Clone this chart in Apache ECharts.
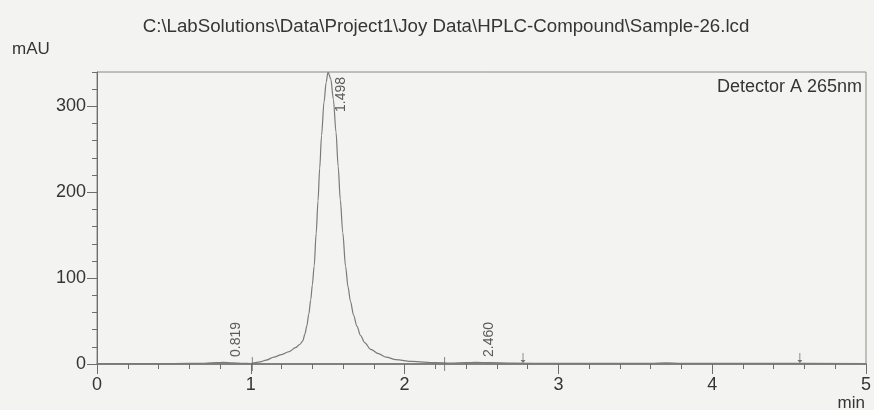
<!DOCTYPE html>
<html>
<head>
<meta charset="utf-8">
<script src="https://cdn.jsdelivr.net/npm/echarts@6/dist/echarts.min.js"></script>
<style>
html,body{margin:0;padding:0;background:#f3f3f2;}
#chart{width:874px;height:410px;}
</style>
</head>
<body>
<div id="chart"></div>
<script>
// ---- data ----
const chartTitle = 'C:\\LabSolutions\\Data\\Project1\\Joy Data\\HPLC-Compound\\Sample-26.lcd';
const yUnit = 'mAU';
const xUnit = 'min';
const detectorLabel = 'Detector A 265nm';
const traceTimes = [0, 0.3, 0.5, 0.7, 0.78, 0.82, 0.88, 0.95, 1.0, 1.06, 1.1, 1.15, 1.2, 1.25, 1.29, 1.32, 1.338, 1.352, 1.364, 1.377, 1.39, 1.40, 1.412, 1.425, 1.437, 1.448, 1.46, 1.476, 1.49, 1.502, 1.52, 1.537, 1.554, 1.568, 1.582, 1.598, 1.616, 1.632, 1.648, 1.668, 1.69, 1.714, 1.74, 1.78, 1.83, 1.88, 1.943, 2.05, 2.2, 2.3, 2.4, 2.46, 2.55, 2.7, 3.0, 3.6, 3.7, 3.8, 4.3, 5.0];
const traceValues = [0.5, 0.5, 0.6, 0.9, 1.5, 1.8, 1.4, 0.8, 0.6, 2.5, 4.5, 8, 11, 14.5, 19, 23, 27, 35, 44, 58, 75, 92, 114, 152, 190, 228, 266, 305, 328, 340, 332, 308, 270, 230, 191, 153, 114, 90, 73, 57, 44, 33, 25, 17, 12, 8, 5, 3, 1.5, 1.0, 1.5, 2.0, 1.5, 1.0, 0.8, 0.8, 1.2, 0.8, 0.7, 0.6];
const peakTimes = [0.819, 1.498, 2.460];
const peakLabelValues = [0, 340, 0];
const arrowTimes = [2.77, 4.57];
const cutTimes = [1.01, 2.26];
const xTickLabels = [0, 1, 2, 3, 4, 5];
const yTickLabels = [0, 100, 200, 300];
const yMinorStep = 20;
const yMax = 340;

const yMinorTicks = [];
for (let v = 0; v <= yMax; v += yMinorStep) yMinorTicks.push(v);

const font = 'Liberation Sans, Arial, sans-serif';
const axisColor = '#6e6e6e';
const textColor = '#353535';

const chart = echarts.init(document.getElementById('chart'));
const peakLabelCfg = [
  {position: [13, -7], align: 'left'},
  {position: [14, 5], align: 'right'},
  {position: [14, -7], align: 'left'}
];

chart.setOption({
  backgroundColor: '#f3f3f2',
  animation: false,
  title: [
    {text: chartTitle, left: 441, top: 12, textAlign: 'center',
     textStyle: {fontFamily: font, fontSize: 18.7, fontWeight: 'normal', color: textColor}},
    {text: yUnit, left: 7, top: 36,
     textStyle: {fontFamily: font, fontSize: 17, fontWeight: 'normal', color: textColor}},
    {text: xUnit, right: 4, top: 390,
     textStyle: {fontFamily: font, fontSize: 17, fontWeight: 'normal', color: textColor}},
    {text: detectorLabel, right: 7, top: 73,
     textStyle: {fontFamily: font, fontSize: 18, fontWeight: 'normal', color: textColor}}
  ],
  grid: {left: 97, right: 6, top: 72, bottom: 46, show: true, borderColor: '#888', borderWidth: 1, containLabel: false},
  xAxis: {
    type: 'value', min: 0, max: 5, interval: 1,
    axisLine: {lineStyle: {color: axisColor, width: 1.5}},
    axisTick: {show: true, length: 10, lineStyle: {color: axisColor}},
    minorTick: {show: true, splitNumber: 5, length: 5, lineStyle: {color: axisColor}},
    splitLine: {show: false},
    axisLabel: {fontFamily: font, fontSize: 18, color: textColor, margin: 12,
      customValues: xTickLabels, formatter: v => String(v)}
  },
  yAxis: [
    {
      type: 'value', min: 0, max: yMax,
      axisLine: {show: true, lineStyle: {color: axisColor, width: 1}},
      axisTick: {show: true, length: 5, customValues: yMinorTicks, lineStyle: {color: axisColor}},
      splitLine: {show: false},
      axisLabel: {fontFamily: font, fontSize: 18, color: textColor, margin: 11,
        customValues: yTickLabels, formatter: v => String(v)}
    },
    {
      type: 'value', min: 0, max: yMax, position: 'left',
      axisLine: {show: false},
      axisTick: {show: true, length: 10, customValues: yTickLabels, lineStyle: {color: axisColor}},
      splitLine: {show: false},
      axisLabel: {show: false}
    }
  ],
  series: [
    {
      type: 'line', name: 'trace', yAxisIndex: 0,
      data: traceTimes.map((t, i) => [t, traceValues[i]]),
      showSymbol: false, smooth: 0.3, smoothMonotone: 'x',
      lineStyle: {color: '#7a7a7a', width: 1.2},
      clip: true, z: 3
    },
    {
      type: 'scatter', name: 'peaks', yAxisIndex: 0, symbolSize: 0,
      data: peakTimes.map((t, i) => ({
        value: [t, peakLabelValues[i]],
        label: {show: true, rotate: 90, position: peakLabelCfg[i].position,
          align: peakLabelCfg[i].align, verticalAlign: 'middle',
          formatter: t.toFixed(3), fontFamily: font, fontSize: 14, color: textColor}
      })),
      z: 4
    },
    {
      type: 'scatter', name: 'arrows', yAxisIndex: 0,
      symbol: 'path://M-0.25,0 L0.25,0 L0.25,7 L1.6,7 L0,10 L-1.6,7 L-0.25,7 Z',
      symbolSize: [5, 10], symbolOffset: [0, -6], symbolKeepAspect: false,
      itemStyle: {color: '#555'},
      data: arrowTimes.map(t => [t, 0]), z: 4
    },
    {
      type: 'scatter', name: 'cuts', yAxisIndex: 0,
      symbol: 'rect', symbolSize: [1, 14],
      itemStyle: {color: '#666'},
      data: cutTimes.map(t => [t, 0]), z: 4
    }
  ]
});
</script>
</body>
</html>
